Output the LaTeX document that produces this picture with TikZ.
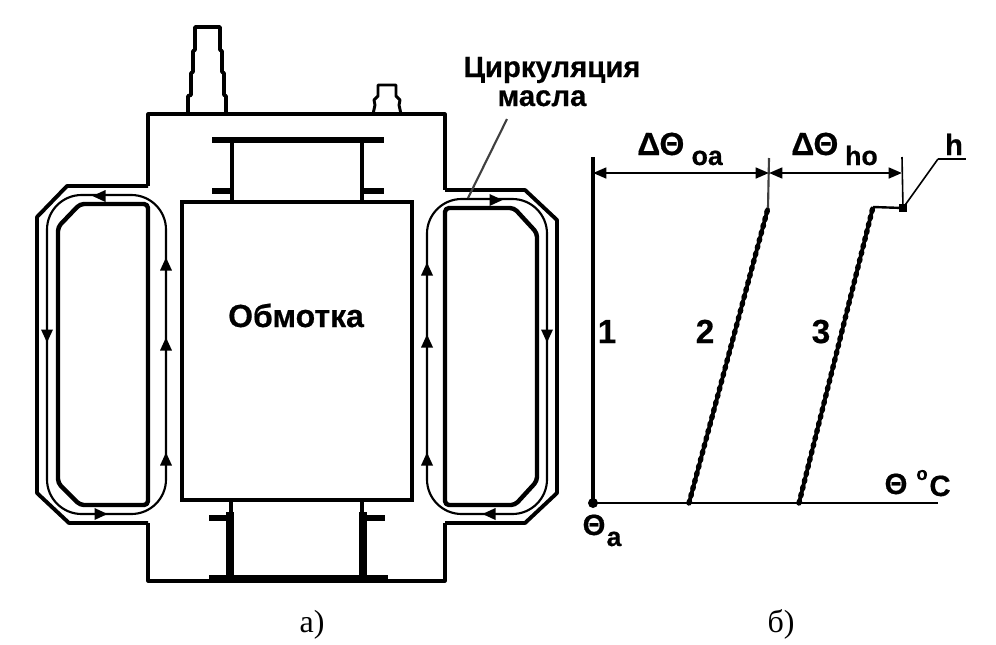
\documentclass[tikz,border=0pt]{standalone}
\usepackage{fontspec}
\setmainfont[BoldFeatures={FakeBold=0.5}]{Liberation Sans}
\newfontfamily\capfont{Liberation Serif}
\usetikzlibrary{arrows.meta,positioning}
\tikzset{
  tankline/.style={line width=2.3pt,line join=round},
  tubeouter/.style={line width=2.9pt,line join=round},
  tubeinner/.style={line width=3.3pt,line join=round},
  oilline/.style={line width=1.6pt},
  polebar/.style={line width=4.5pt},
  postbar/.style={line width=3.6pt},
  postheavy/.style={line width=5.8pt},
  slopeline/.style={line width=2.8pt,postaction={draw,line width=4pt,line cap=round,dash pattern=on 1.5pt off 4pt}},
  dimline/.style={line width=1.9pt,{Triangle[length=10pt,width=8pt]}-{Triangle[length=10pt,width=8pt]}},
  thinline/.style={line width=1.2pt},
  boldtext/.style={font=\bfseries\fontsize{#1}{#1}\selectfont,inner sep=0pt,anchor=base},
  captext/.style={font=\capfont\fontsize{24}{24}\selectfont,inner sep=0pt,anchor=base}
}
\begin{document}
\begin{tikzpicture}[x=0.75pt,y=-0.75pt]
  \useasboundingbox (0,0) rectangle (996,644);
  % tank
  \draw[tankline] (148,186) -- (148,114) -- (445,114) -- (445,190);
  \draw[tankline] (148,523) -- (148,581) -- (445,581) -- (445,523);
  % large and small bushing
  \draw[line width=2.8pt,line join=round] (188,114) -- (188,96) -- (191,95) -- (191,73) -- (193,72) -- (193,51) -- (195,50) -- (195,27) -- (220,27) -- (220,50) -- (222,51) -- (222,72) -- (224,73) -- (224,95) -- (226,96) -- (226,114);
  \draw[line width=2.2pt,line join=round] (373,114) -- (375,105) -- (374,100) -- (378,96) -- (378,85) -- (396,85) -- (396,96) -- (400,100) -- (399,105) -- (401,114);
  % left radiator
  \draw[tubeouter] (148,186) -- (67,186) -- (37,217) -- (37,493) -- (69,523) -- (148,523);
  \draw[tubeinner,rounded corners=3] (148,204) -- (80,204) -- (58,227) -- (58,483) -- (80,505) -- (148,505) -- cycle;
  \draw[oilline,rounded corners=26] (166,350) -- (166,195) -- (47,195) -- (47,514) -- (166,514) -- (166,350);
  % right radiator
  \draw[tubeouter] (445,190) -- (525,190) -- (557,220) -- (557,493) -- (525,523) -- (445,523);
  \draw[tubeinner,rounded corners=3] (445,208) -- (514,208) -- (537,233) -- (537,481) -- (515,505) -- (445,505) -- cycle;
  \draw[oilline,rounded corners=26] (427,350) -- (427,199) -- (547,199) -- (547,514) -- (427,514) -- (427,350);
  % oil flow marks
  \foreach \mx/\my/\ang in {166/265/90,166/345/90,166/460/90,47/335/-90,100/196/180,100/514/0,
                            427/270/90,427/342/90,427/460/90,547/335/-90,495/200/0,490/514/180}
    \fill[shift={(\mx,\my)},rotate=\ang] (7.5,0) -- (-5.5,-6) -- (-5.5,6) -- cycle;
  % winding
  \draw[line width=2.6pt] (182,202) rectangle (412,500);
  \node[boldtext=24] (windtext) at (296,327) {Обмотка};
  % upper yoke
  \draw[polebar] (212,140) -- (384,140);
  \draw[postbar] (232,140) -- (232,202);
  \draw[postbar] (362,140) -- (362,202);
  \draw[polebar] (212,191) -- (232,191);
  \draw[polebar] (362,191) -- (384,191);
  % lower yoke
  \draw[line width=2.4pt] (231,500) -- (231,515);
  \draw[line width=2.4pt] (362,500) -- (362,515);
  \draw[postheavy] (230,512) -- (230,579);
  \draw[postheavy] (363,512) -- (363,579);
  \draw[polebar] (209,518) -- (230,518);
  \draw[polebar] (363,518) -- (385,518);
  \draw[line width=5.5pt] (209,579) -- (388,579);
  % oil label
  \node[boldtext=22] (oiltext) at (552,77) {Циркуляция};
  \node[boldtext=22] (oiltextb) at (542,106) {масла};
  \coordinate (oiltip) at (468,198);
  \draw[line width=1.6pt,black!75] (507,119) -- (oiltip);
  % chart
  \coordinate (origin) at (593,503);
  \coordinate (topa) at (593,157);
  \coordinate (axisend) at (938,503);
  \coordinate (footb) at (689,503);
  \coordinate (headb) at (768,208);
  \coordinate (footc) at (799,503);
  \coordinate (headc) at (873,207);
  \coordinate (hotspot) at (903,208);
  \coordinate (kneeh) at (938,159);
  \coordinate (endh) at (966,159);
  \draw[line width=2.8pt] (topa) -- (origin);
  \draw[line width=2pt] (origin) -- (axisend);
  \fill (origin) circle (5);
  \draw[slopeline] (footb) -- (headb);
  \draw[slopeline] (footc) -- (headc);
  \draw[line width=1.8pt] (headc) -- (hotspot);
  \fill (899,204) rectangle (907,212);
  \draw[line width=1.6pt,black!75] (769,158) -- (headb);
  \draw[thinline] (902,157) -- (hotspot);
  \draw[dimline] (593,173) -- (769,173);
  \draw[dimline] (769,173) -- (902,173);
  \draw[thinline] (hotspot) -- (kneeh);
  \draw[line width=1.8pt] (kneeh) -- (endh);
  % chart labels
  \node[boldtext=24,anchor=base west] (dtoa) at (637,155) {ΔΘ};
  \node[boldtext=20,anchor=base east] (suboa) at (723,165) {oa};
  \node[boldtext=24,anchor=base west] (dtho) at (791,155) {ΔΘ};
  \node[boldtext=20,anchor=base east] (subho) at (878,165) {ho};
  \node[boldtext=22] (htext) at (954,155) {h};
  \node[boldtext=25] (numa) at (607,343) {1};
  \node[boldtext=25] (numb) at (705,343) {2};
  \node[boldtext=25] (numc) at (821,343) {3};
  \node[boldtext=22] (tha) at (594,535) {Θ};
  \node[boldtext=20] (suba) at (614,546) {a};
  \node[boldtext=22] (thaxis) at (896,494) {Θ};
  \node[boldtext=14] (deg) at (922,480) {o};
  \node[boldtext=22] (unit) at (940,496) {C};
  \node[captext] (capa) at (312,632) {a)};
  \node[captext] (capb) at (781,632) {\char"0431)};
\end{tikzpicture}
\end{document}
